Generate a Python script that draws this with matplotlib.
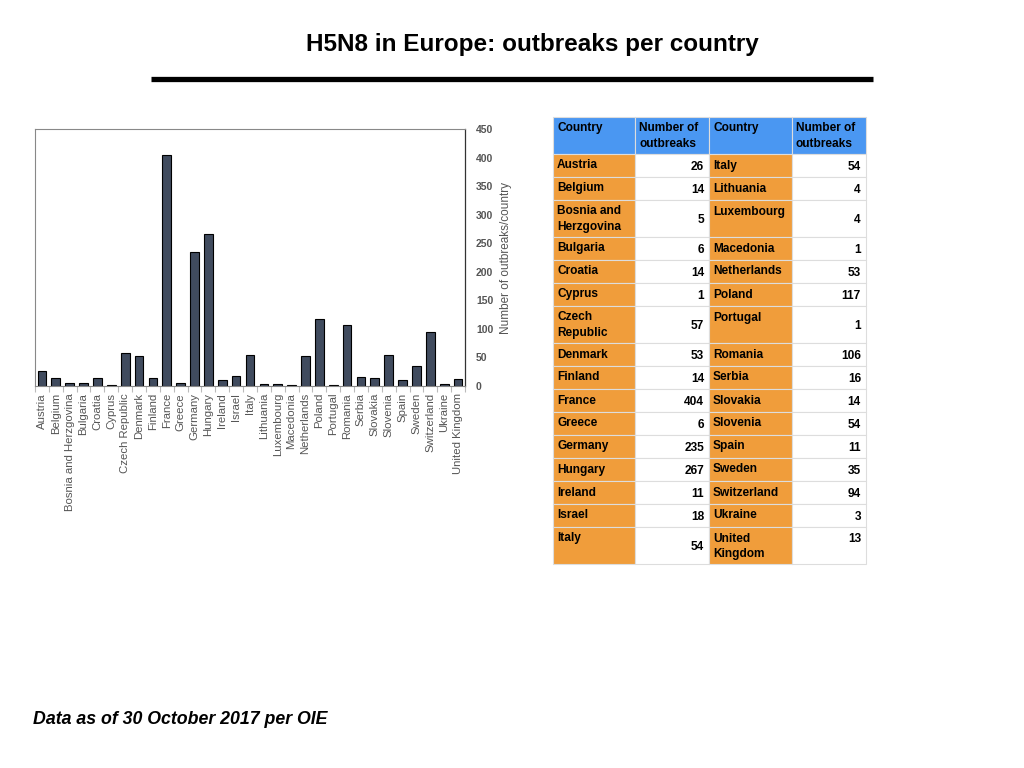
import matplotlib
matplotlib.use("Agg")
import matplotlib.pyplot as plt
from matplotlib.patches import Rectangle
from matplotlib.lines import Line2D
import numpy as np

countries = [
    "Austria", "Belgium", "Bosnia and Herzgovina", "Bulgaria", "Croatia",
    "Cyprus", "Czech Republic", "Denmark", "Finland", "France", "Greece",
    "Germany", "Hungary", "Ireland", "Israel", "Italy", "Lithuania",
    "Luxembourg", "Macedonia", "Netherlands", "Poland", "Portugal",
    "Romania", "Serbia", "Slovakia", "Slovenia", "Spain", "Sweden",
    "Switzerland", "Ukraine", "United Kingdom",
]
outbreaks = [
    26, 14, 5, 6, 14, 1, 57, 53, 14, 404, 6, 235, 267, 11, 18, 54, 4, 4,
    1, 53, 117, 1, 106, 16, 14, 54, 11, 35, 94, 3, 13,
]
y_ticks = [0, 50, 100, 150, 200, 250, 300, 350, 400, 450]

# table: left half Austria..Italy, right half Italy..United Kingdom
left_names = [
    "Austria", "Belgium", "Bosnia and\nHerzgovina", "Bulgaria", "Croatia",
    "Cyprus", "Czech\nRepublic", "Denmark", "Finland", "France", "Greece",
    "Germany", "Hungary", "Ireland", "Israel", "Italy",
]
right_names = [
    "Italy", "Lithuania", "Luxembourg", "Macedonia", "Netherlands",
    "Poland", "Portugal", "Romania", "Serbia", "Slovakia", "Slovenia",
    "Spain", "Sweden", "Switzerland", "Ukraine", "United\nKingdom",
]
left_values = outbreaks[:16]
right_values = outbreaks[15:]

FONT = ["Liberation Sans", "DejaVu Sans"]
TITLE_FONT = ["Liberation Sans Narrow", "Liberation Sans", "DejaVu Sans"]
BAR_COLOR = "#404b5e"
GRAY = "#555555"
BLUE = "#4a97f2"
ORANGE = "#f09d3b"

W, H = 1024, 768
fig = plt.figure(figsize=(W / 100, H / 100), dpi=100)


def fx(px):
    return px / W


def fy(py):
    return 1 - py / H


# title and rule
fig.text(fx(532), fy(45), "H5N8 in Europe: outbreaks per country",
         ha="center", va="center", fontsize=17.5, fontweight="bold",
         family=TITLE_FONT, color="black")
fig.add_artist(Line2D([fx(151), fx(873)], [fy(79), fy(79)],
                      color="black", lw=3.8, solid_capstyle="butt",
                      transform=fig.transFigure))

# bar chart
ax = fig.add_axes([fx(35), fy(386), fx(465 - 35), (386 - 129) / H])
x = np.arange(len(countries))
ax.bar(x, outbreaks, width=0.63, color=BAR_COLOR, edgecolor="black", linewidth=0.8)
ax.set_xlim(-0.5, len(countries) - 0.5)
ax.set_ylim(0, 450)
ax.yaxis.tick_right()
ax.yaxis.set_label_position("right")
ax.set_yticks(y_ticks)
ax.set_yticklabels([str(t) for t in y_ticks], fontsize=7.5, fontweight="bold",
                   color=GRAY, family=FONT)
ax.tick_params(axis="y", length=0, pad=8)
ax.set_ylabel("Number of outbreaks/country", fontsize=8.5, color=GRAY,
              family=FONT, labelpad=5)
ax.set_xticks(x)
ax.set_xticklabels(countries, rotation=90, fontsize=8.2, color=GRAY, family=FONT)
ax.tick_params(axis="x", length=0, pad=5)
ax.set_xticks(np.arange(-0.5, len(countries), 1), minor=True)
ax.tick_params(axis="x", which="minor", length=4, color="#bbbbbb", width=0.8)
for side in ["left", "top", "bottom"]:
    ax.spines[side].set_color("#888888")
    ax.spines[side].set_linewidth(0.8)
ax.spines["right"].set_color("#333333")
ax.spines["right"].set_linewidth(0.9)

# table
col_x = [553, 635, 709, 792, 866]
header_h = 37
row_heights = [23, 23, 37, 23, 23, 23, 37, 23, 23, 23, 23, 23, 23, 23, 23, 37]
top = 117
table_ax = fig.add_axes([0, 0, 1, 1])
table_ax.set_xlim(0, W)
table_ax.set_ylim(H, 0)
table_ax.axis("off")

line_col = "#dddddd"
TS = 8.6
LS = 1.4


def cell(x0, x1, y0, y1, color):
    table_ax.add_patch(Rectangle((x0, y0), x1 - x0, y1 - y0, facecolor=color,
                                 edgecolor=line_col, linewidth=0.8))


headers = ["Country", "Number of\noutbreaks", "Country", "Number of\noutbreaks"]
for i, label in enumerate(headers):
    cell(col_x[i], col_x[i + 1], top, top + header_h, BLUE)
    table_ax.text(col_x[i] + 4, top + 5, label, ha="left", va="top",
                  fontsize=TS, fontweight="bold", family=FONT, color="black",
                  linespacing=LS)

y0 = top + header_h
for r, h in enumerate(row_heights):
    y1 = y0 + h
    for half, names, values in [(0, left_names, left_values),
                                (2, right_names, right_values)]:
        cx0, cx1, cx2 = col_x[half], col_x[half + 1], col_x[half + 2]
        cell(cx0, cx1, y0, y1, ORANGE)
        cell(cx1, cx2, y0, y1, "white")
        table_ax.text(cx0 + 4, y0 + 5.5, names[r], ha="left", va="top",
                      fontsize=TS, fontweight="bold", family=FONT,
                      color="black", linespacing=LS)
        if names[r].startswith("United"):
            table_ax.text(cx2 - 5, y0 + 6, str(values[r]), ha="right",
                          va="top", fontsize=TS, fontweight="bold",
                          family=FONT, color="black")
        else:
            table_ax.text(cx2 - 5, y0 + h / 2 + 1.5, str(values[r]), ha="right",
                          va="center", fontsize=TS, fontweight="bold",
                          family=FONT, color="black")
    y0 = y1

# footer
fig.text(fx(33), fy(720), "Data as of 30 October 2017 per OIE", ha="left",
         va="center", fontsize=12.8, fontweight="bold", fontstyle="italic",
         family=FONT, color="black")

fig.savefig("out.png", dpi=100)
